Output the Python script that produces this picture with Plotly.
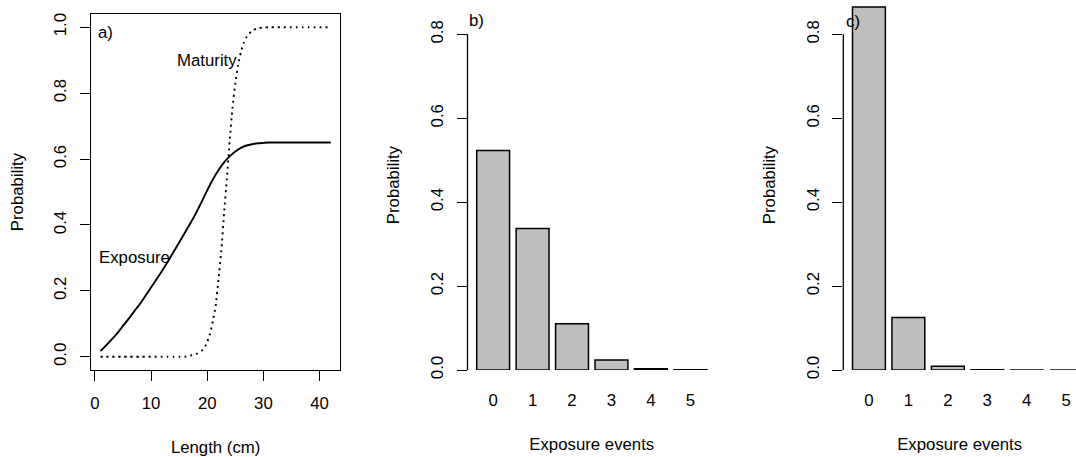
import plotly.graph_objects as go

# ---------------- data ----------------
# Panel a: exposure and maturity curves vs length (cm)
exp_length = list(range(1, 43))
exp_prob = [0.017, 0.035, 0.053, 0.072, 0.094, 0.115, 0.138, 0.160, 0.185, 0.210,
            0.236, 0.262, 0.289, 0.318, 0.347, 0.376, 0.405, 0.436, 0.470, 0.505,
            0.538, 0.566, 0.590, 0.608, 0.623, 0.634, 0.641, 0.645, 0.648, 0.649,
            0.650, 0.650, 0.650, 0.650, 0.650, 0.650, 0.650, 0.650, 0.650, 0.650,
            0.650, 0.650]

mat_length = list(range(1, 19)) + [19, 19.5, 20, 20.5, 21, 21.5, 22, 22.5, 23, 23.5,
                                   24, 24.5, 25, 25.5, 26, 26.5, 27, 28, 29] + list(range(30, 43))
mat_prob = ([0.0] * 16 + [0.004, 0.008] +
            [0.018, 0.028, 0.045, 0.07, 0.108, 0.155, 0.235, 0.32, 0.435, 0.54,
             0.655, 0.755, 0.83, 0.885, 0.925, 0.952, 0.97, 0.99, 0.997] +
            [0.999] + [1.0] * 12)

# Panels b and c: distribution of number of exposure events
events = ["0", "1", "2", "3", "4", "5"]
prob_b = [0.523, 0.337, 0.110, 0.024, 0.003, 0.0003]
prob_c = [0.865, 0.125, 0.009, 0.0004, 0.00002, 0.000001]

x_ticks_a = [0, 10, 20, 30, 40]
y_ticks_a = [0.0, 0.2, 0.4, 0.6, 0.8, 1.0]
y_ticks_bc = [0.0, 0.2, 0.4, 0.6, 0.8]

# ---------------- styling ----------------
W, H = 1076, 457
FONT = "Liberation Sans, Arial, Helvetica, sans-serif"
FS = 16.8
BAR_FILL = "#BEBEBE"

def px_x(p):
    return p / W

def px_y(p):
    return 1 - p / H

ydom_a = [px_y(370), px_y(14)]
ydom_bc = [px_y(370), 1.0]
ytop_bc = 370 / 419.6          # keeps the reference scale, leaves room for the tall bar

fig = go.Figure()

fig.add_trace(go.Scatter(x=exp_length, y=exp_prob, mode="lines",
                         line=dict(color="black", width=1.9, shape="spline", smoothing=0.5),
                         xaxis="x", yaxis="y", showlegend=False, name="Exposure"))
fig.add_trace(go.Scatter(x=mat_length, y=mat_prob, mode="lines",
                         line=dict(color="black", width=1.9, dash="2px,4px",
                                   shape="spline", smoothing=0.5),
                         xaxis="x", yaxis="y", showlegend=False, name="Maturity"))

for vals, xa, ya in [(prob_b, "x2", "y2"), (prob_c, "x3", "y3")]:
    fig.add_trace(go.Bar(x=events, y=vals, xaxis=xa, yaxis=ya,
                         marker=dict(color=BAR_FILL, line=dict(color="black", width=1.5)),
                         showlegend=False))

tickfont = dict(family=FONT, size=FS, color="black")
titlefont = dict(family=FONT, size=FS, color="black")

common_y = dict(tickangle=-90, ticks="outside", ticklen=10, tickwidth=1.2,
                tickcolor="black", tickfont=tickfont, tickformat=".1f",
                showgrid=False, zeroline=False, ticklabelstandoff=7, automargin=False,
                title=dict(text="Probability", font=titlefont, standoff=23))

x_cat = dict(type="category", showgrid=False, zeroline=False, showline=False, ticks="",
             tickfont=tickfont, ticklabelstandoff=18, automargin=False)

fig.update_layout(
    width=W, height=H,
    margin=dict(l=0, r=0, t=0, b=0, autoexpand=False),
    paper_bgcolor="white", plot_bgcolor="white",
    bargap=0.2 / 1.2,
    font=dict(family=FONT, size=FS, color="black"),
    xaxis=dict(domain=[px_x(91.3), px_x(340)], range=[-0.64, 43.64],
               tickvals=x_ticks_a, ticks="outside", ticklen=10, tickwidth=1.2,
               tickcolor="black", tickfont=tickfont, showgrid=False, zeroline=False,
               showline=True, linecolor="black", linewidth=1.3, mirror=True,
               ticklabelstandoff=8, automargin=False,
               title=dict(text="Length (cm)", font=titlefont, standoff=29),
               anchor="y"),
    yaxis=dict(domain=ydom_a, range=[-0.04, 1.04], tickvals=y_ticks_a,
               showline=True, linecolor="black", linewidth=1.3, mirror=True,
               anchor="x", **common_y),
    xaxis2=dict(domain=[px_x(467.5), px_x(716)], range=[-0.65, 5.65],
                title=dict(text="Exposure events", font=titlefont, standoff=29),
                anchor="y2", **x_cat),
    yaxis2=dict(domain=ydom_bc, range=[0, ytop_bc], tickvals=y_ticks_bc, showline=False,
                anchor="x2", **common_y),
    xaxis3=dict(domain=[px_x(843.3), 1.0], range=[-0.65, 5.25],
                title=dict(text="Exposure events", font=titlefont, standoff=29),
                anchor="y3", **x_cat),
    yaxis3=dict(domain=ydom_bc, range=[0, ytop_bc], tickvals=y_ticks_bc, showline=False,
                anchor="x3", **common_y),
)

# R-style y axis lines spanning first to last tick for the bar panels
for xa, ya in [("x2", "y2"), ("x3", "y3")]:
    fig.add_shape(type="line", xref=f"{xa} domain", yref=ya,
                  x0=0, x1=0, y0=y_ticks_bc[0], y1=y_ticks_bc[-1],
                  line=dict(color="black", width=1.3))

ann = dict(showarrow=False, font=dict(family=FONT, size=FS, color="black"))
fig.add_annotation(x=1.9, y=0.985, xref="x", yref="y", text="a)", **ann)
fig.add_annotation(x=20, y=0.9, xref="x", yref="y", text="Maturity", **ann)
fig.add_annotation(x=7, y=0.3, xref="x", yref="y", text="Exposure", **ann)
fig.add_annotation(x=-0.42, y=0.832, xref="x2", yref="y2", text="b)", **ann)
fig.add_annotation(x=-0.40, y=0.830, xref="x3", yref="y3", text="c)", **ann)

fig.write_html("out.html", config={"displayModeBar": False},
               post_script="document.body.style.margin='0';")
